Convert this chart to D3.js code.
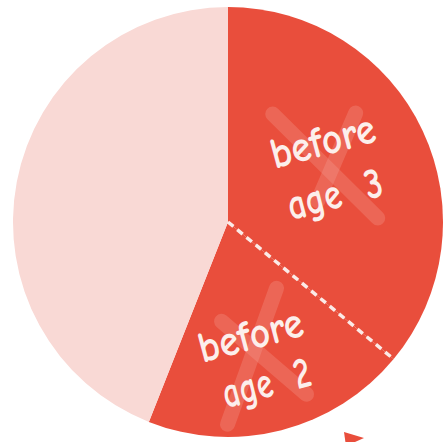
<!DOCTYPE html>
<html>
<head>
<meta charset="utf-8">
<script src="https://cdn.jsdelivr.net/npm/d3@7"></script>
<style>
  html, body { margin: 0; padding: 0; background: #ffffff; }
  svg { display: block; }
</style>
</head>
<body>
<svg id="chart" width="444" height="442"></svg>
<script>
// ---- data ----
const categories = ["before age 3", "before age 2", "later"];
const values = [36, 20, 44];
const line1Labels = ["before", "before", ""];
const line2Labels = ["age\u00a0\u00a03", "age\u00a0\u00a02", ""];

// ---- styles / layout ----
const colors = ["#e94e3c", "#e94e3c", "#f9d9d5"];
const W = 444, H = 442;
const cx = 228, cy = 222, R = 215;

const svg = d3.select("#chart");
const g = svg.append("g").attr("transform", `translate(${cx},${cy})`);

const pie = d3.pie().sort(null).value(d => d).startAngle(0).endAngle(2 * Math.PI);
const arcs = pie(values);
const arc = d3.arc().innerRadius(0).outerRadius(R);

g.selectAll("path.slice")
  .data(arcs)
  .join("path")
  .attr("class", "slice")
  .attr("d", arc)
  .attr("fill", (d, i) => colors[i]);

// dashed divider between the two red slices
const a = arcs[0].endAngle;
g.append("line")
  .attr("x1", 0).attr("y1", 0)
  .attr("x2", Math.sin(a) * (R - 1))
  .attr("y2", -Math.cos(a) * (R - 1))
  .attr("stroke", "#fbeae7")
  .attr("stroke-width", 3.5)
  .attr("stroke-dasharray", "7,5");

// labels with crossed-out X marks
const labelRadius = [108, 150];
const labelAngleOffset = [0, 0.06];
const xMarks = [
  [[[-53, -62], [52, 42]], [[30, -63], [-8, 25]]],
  [[[-35, -48], [50, 25]], [[20, -81], [-29, 55]]]
];
const line1Pos = [[6, -20], [3, -20]];
const line2Pos = [[4, 34], [6, 30]];
const line1Len = [107, 107];
const line2Len = [97, 90];

[0, 1].forEach(i => {
  const d = arcs[i];
  const mid = (d.startAngle + d.endAngle) / 2 + labelAngleOffset[i];
  const lx = Math.sin(mid) * labelRadius[i];
  const ly = -Math.cos(mid) * labelRadius[i];
  const lg = g.append("g").attr("transform", `translate(${lx},${ly})`);

  xMarks[i].forEach(s => {
    lg.append("line")
      .attr("x1", s[0][0]).attr("y1", s[0][1])
      .attr("x2", s[1][0]).attr("y2", s[1][1])
      .attr("stroke", "#f6a69c")
      .attr("stroke-opacity", 0.28)
      .attr("stroke-width", 15)
      .attr("stroke-linecap", "round");
  });

  const tg = lg.append("g").attr("transform", "rotate(-15)");
  const font = "'Comic Sans MS', 'Comic Neue', 'Open Sans', sans-serif";
  tg.append("text")
    .attr("x", line1Pos[i][0]).attr("y", line1Pos[i][1])
    .attr("text-anchor", "middle")
    .attr("font-family", font)
    .attr("font-size", 44)
    .attr("font-weight", "bold")
    .attr("fill", "#fcefec")
    .attr("textLength", line1Len[i])
    .attr("lengthAdjust", "spacingAndGlyphs")
    .text(line1Labels[i]);
  tg.append("text")
    .attr("x", line2Pos[i][0]).attr("y", line2Pos[i][1])
    .attr("text-anchor", "middle")
    .attr("font-family", font)
    .attr("font-size", 44)
    .attr("font-weight", "bold")
    .attr("fill", "#fcefec")
    .attr("textLength", line2Len[i])
    .attr("lengthAdjust", "spacingAndGlyphs")
    .text(line2Labels[i]);
});

// small red arrow tip peeking in at the bottom edge
svg.append("path")
  .attr("d", d3.line()([[344, 432], [364, 438], [346, 446]]))
  .attr("fill", "#e94e3c");
</script>
</body>
</html>
